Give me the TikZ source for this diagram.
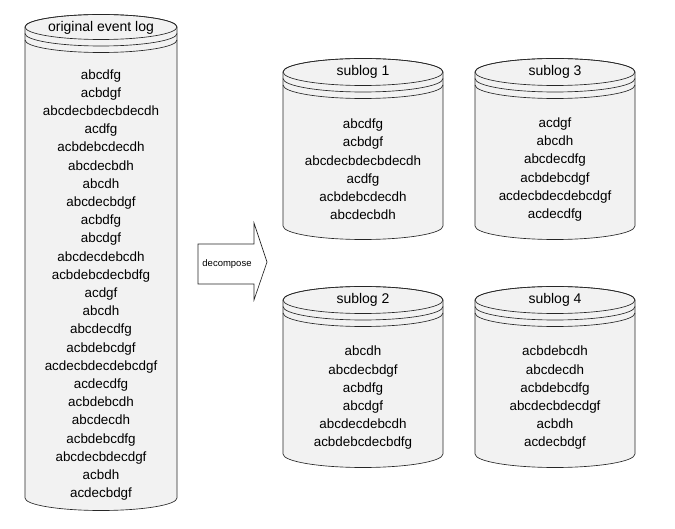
\documentclass[tikz,border=0pt]{standalone}
\usepackage{fontspec}
\setmainfont{Liberation Sans}
\tikzset{
  cylfill/.style={fill=black!5, draw=black!85, line width=0.65pt},
  cylline/.style={draw=black!85, line width=0.65pt},
  logtext/.style={align=center, font=\fontsize{13.4}{18.2}\selectfont, inner sep=0pt},
  titletext/.style={font=\fontsize{14}{16}\selectfont, inner sep=0pt},
  arrowbox/.style={fill=white, draw=black!85, line width=0.65pt},
}
\newcommand{\dbcyl}[5]{% x1, x2, cy, by, ry
  \pgfmathsetmacro\cylcx{(#1+#2)/2}%
  \pgfmathsetmacro\cylrx{(#2-#1)/2}%
  \path[cylfill] (#1,#3) -- (#1,#4) arc[start angle=180,end angle=0,x radius=\cylrx,y radius=#5]
     -- (#2,#3) arc[start angle=360,end angle=180,x radius=\cylrx,y radius=#5] -- cycle;
  \draw[cylline] (\cylcx,#3) ellipse[x radius=\cylrx,y radius=#5];
  \draw[cylline] (#1,#3+6.5) arc[start angle=180,end angle=0,x radius=\cylrx,y radius=#5];
  \draw[cylline] (#1,#3+13) arc[start angle=180,end angle=0,x radius=\cylrx,y radius=#5];
}
\begin{document}
\begin{tikzpicture}[x=1pt,y=-1pt]
\useasboundingbox (0,0) rectangle (675,529);
% cylinders
\dbcyl{25}{177}{27}{498}{12.5}
\dbcyl{283}{443}{72}{226}{13.5}
\dbcyl{475}{635}{72}{226}{13.5}
\dbcyl{283}{443}{300}{454}{13.5}
\dbcyl{475}{635}{300}{454}{13.5}
% titles
\node[titletext] (t0) at (101,28) {original event log};
\node[titletext] (t1) at (363,72) {sublog 1};
\node[titletext] (t3) at (555,72) {sublog 3};
\node[titletext] (t2) at (363,300) {sublog 2};
\node[titletext] (t4) at (555,300) {sublog 4};
% contents
\node[logtext] (l0) at (101,285) {abcdfg\\acbdgf\\abcdecbdecbdecdh\\acdfg\\acbdebcdecdh\\abcdecbdh\\abcdh\\abcdecbdgf\\acbdfg\\abcdgf\\abcdecdebcdh\\acbdebcdecbdfg\\acdgf\\abcdh\\abcdecdfg\\acbdebcdgf\\acdecbdecdebcdgf\\acdecdfg\\acbdebcdh\\abcdecdh\\acbdebcdfg\\abcdecbdecdgf\\acbdh\\acdecbdgf};
\node[logtext] (l1) at (363,169.5) {abcdfg\\acbdgf\\abcdecbdecbdecdh\\acdfg\\acbdebcdecdh\\abcdecbdh};
\node[logtext] (l3) at (555,169.5) {acdgf\\abcdh\\abcdecdfg\\acbdebcdgf\\acdecbdecdebcdgf\\acdecdfg};
\node[logtext] (l2) at (363,398) {abcdh\\abcdecbdgf\\acbdfg\\abcdgf\\abcdecdebcdh\\acbdebcdecbdfg};
\node[logtext] (l4) at (555,398) {acbdebcdh\\abcdecdh\\acbdebcdfg\\abcdecbdecdgf\\acbdh\\acdecbdgf};
% decompose arrow
\draw[arrowbox] (198,244) -- (254,244) -- (254,223) -- (267,262) -- (254,300) -- (254,284) -- (198,284) -- cycle;
\node[font=\fontsize{9.5}{12}\selectfont, inner sep=0pt] (dec) at (227,264) {decompose};
\end{tikzpicture}
\end{document}
